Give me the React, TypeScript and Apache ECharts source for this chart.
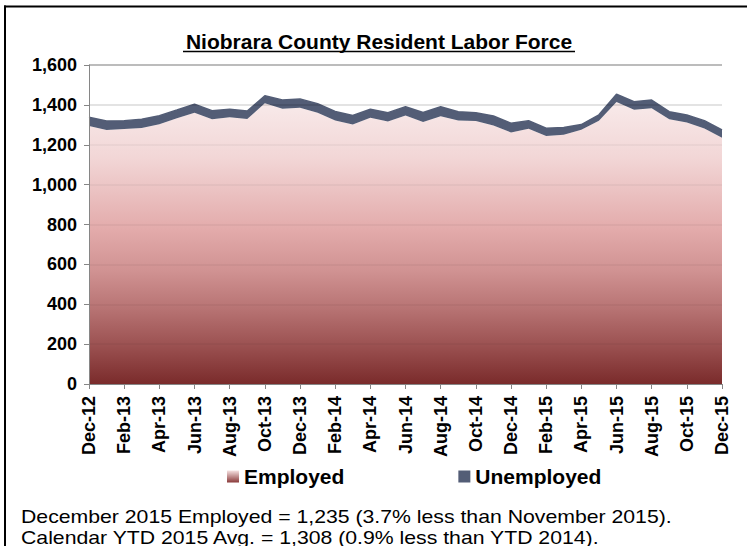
import React, { useEffect, useRef } from "react";
import * as echarts from "echarts";

const months: string[] = [
  "Dec-12", "Jan-13", "Feb-13", "Mar-13", "Apr-13", "May-13", "Jun-13", "Jul-13", "Aug-13", "Sep-13", "Oct-13", "Nov-13", "Dec-13",
  "Jan-14", "Feb-14", "Mar-14", "Apr-14", "May-14", "Jun-14", "Jul-14", "Aug-14", "Sep-14", "Oct-14", "Nov-14", "Dec-14",
  "Jan-15", "Feb-15", "Mar-15", "Apr-15", "May-15", "Jun-15", "Jul-15", "Aug-15", "Sep-15", "Oct-15", "Nov-15", "Dec-15",
];

const employed: number[] = [
  1294, 1274, 1279, 1284, 1303, 1333, 1361, 1328, 1338, 1329, 1408, 1381, 1386,
  1361, 1322, 1302, 1336, 1317, 1347, 1314, 1343, 1322, 1319, 1297, 1262,
  1280, 1244, 1250, 1275, 1320, 1415, 1375, 1383, 1328, 1311, 1282, 1235,
];

const unemployed: number[] = [
  44, 45, 42, 44, 43, 41, 42, 43, 40, 40, 38, 44, 44,
  45, 45, 45, 42, 44, 44, 48, 48, 44, 42, 47, 46,
  41, 39, 36, 26, 30, 38, 41, 41, 38, 38, 39, 39,
];

const yTicks = { min: 0, max: 1600, interval: 200 };

const titleText = "Niobrara County Resident Labor Force";
const footerLines: string[] = [
  "December 2015 Employed = 1,235 (3.7% less than November 2015).",
  "Calendar YTD 2015 Avg. = 1,308 (0.9% less than YTD 2014).",
];

const FONT = "'Liberation Sans', Arial, sans-serif";

export default function App() {
  const ref = useRef<HTMLDivElement>(null);
  useEffect(() => {
    if (!ref.current) return;
    const chart = echarts.init(ref.current, undefined, { renderer: "svg" });
    const empGradient = new echarts.graphic.LinearGradient(0, 0, 0, 1, [
      { offset: 0, color: "#F8EAEA" },
      { offset: 0.2, color: "#F2D6D6" },
      { offset: 0.45, color: "#E3ABAB" },
      { offset: 0.6, color: "#D09292" },
      { offset: 0.73, color: "#B87474" },
      { offset: 0.86, color: "#9C5252" },
      { offset: 1, color: "#7A2B2B" },
    ]);
    const iconGradient = new echarts.graphic.LinearGradient(0, 0, 0, 1, [
      { offset: 0, color: "#F6E2E2" },
      { offset: 1, color: "#8A3A3A" },
    ]);
    const gridColors = [
      "rgba(0,0,0,0)", "rgba(0,0,0,0.05)", "rgba(0,0,0,0.05)", "rgba(0,0,0,0.05)",
      "rgba(0,0,0,0.05)", "rgba(0,0,0,0.05)", "rgba(0,0,0,0.05)", "rgba(0,0,0,0.15)", "#A6A6A6",
    ];
    chart.setOption({
      animation: false,
      backgroundColor: "#ffffff",
      textStyle: { fontFamily: FONT },
      grid: { left: 89, right: 25, top: 65, bottom: 162, containLabel: false },
      legend: {
        left: 222,
        top: 461,
        itemWidth: 12,
        itemHeight: 12,
        itemGap: 114,
        icon: "rect",
        textStyle: { fontFamily: FONT, fontSize: 21, fontWeight: "bold", color: "#000" },
        data: [
          { name: "Employed", itemStyle: { color: iconGradient } },
          { name: "Unemployed", itemStyle: { color: "#535D76" } },
        ],
      },
      xAxis: {
        type: "category",
        data: months,
        boundaryGap: false,
        axisLine: { lineStyle: { color: "#868686", width: 1 } },
        axisTick: { show: true, interval: 1, length: 5, lineStyle: { color: "#868686" } },
        axisLabel: {
          interval: 1,
          rotate: 90,
          margin: 12,
          fontFamily: FONT,
          fontSize: 18,
          fontWeight: "bold",
          color: "#000",
        },
        splitLine: { show: false },
      },
      yAxis: {
        type: "value",
        min: yTicks.min,
        max: yTicks.max,
        interval: yTicks.interval,
        z: 3,
        axisLine: { show: true, lineStyle: { color: "#868686", width: 1 } },
        axisTick: { show: true, length: 5, lineStyle: { color: "#868686" } },
        axisLabel: {
          margin: 12,
          fontFamily: FONT,
          fontSize: 18,
          fontWeight: "bold",
          color: "#000",
          formatter: (v: number) => v.toLocaleString("en-US"),
        },
        splitLine: { show: true, lineStyle: { color: gridColors, width: 1.5 } },
      },
      series: [
        {
          name: "Employed",
          type: "line",
          stack: "total",
          data: employed,
          showSymbol: false,
          symbol: "none",
          lineStyle: { width: 0 },
          itemStyle: { color: "#C07C7C" },
          areaStyle: { color: empGradient, opacity: 1 },
          z: 2,
        },
        {
          name: "Unemployed",
          type: "line",
          stack: "total",
          data: unemployed,
          showSymbol: false,
          symbol: "none",
          lineStyle: { width: 1.5, color: "#535D76" },
          itemStyle: { color: "#535D76" },
          areaStyle: { color: "#535D76", opacity: 1 },
          z: 2,
        },
      ],
      graphic: [
        {
          type: "line",
          shape: { x1: 5, y1: 5.5, x2: 5, y2: 560 },
          style: { stroke: "#000", lineWidth: 2 },
          silent: true,
          z: 10,
        },
        {
          type: "line",
          shape: { x1: 4, y1: 6.5, x2: 760, y2: 6.5 },
          style: { stroke: "#000", lineWidth: 2 },
          silent: true,
          z: 10,
        },
        {
          type: "text",
          x: 379,
          y: 41,
          style: {
            text: titleText,
            font: `bold 21px ${FONT}`,
            fill: "#000",
            align: "center",
            verticalAlign: "middle",
          },
          z: 10,
        },
        {
          type: "line",
          shape: { x1: 183, y1: 51.5, x2: 575, y2: 51.5 },
          style: { stroke: "#000", lineWidth: 1.5 },
          z: 10,
        },
        {
          type: "text",
          x: 21,
          y: 517,
          scaleX: 1.18,
          style: {
            text: footerLines[0],
            font: `18px ${FONT}`,
            fill: "#000",
            align: "left",
            verticalAlign: "middle",
          },
          z: 10,
        },
        {
          type: "text",
          x: 21,
          y: 537.5,
          scaleX: 1.18,
          style: {
            text: footerLines[1],
            font: `18px ${FONT}`,
            fill: "#000",
            align: "left",
            verticalAlign: "middle",
          },
          z: 10,
        },
      ],
    });
    return () => chart.dispose();
  }, []);
  return (
    <div
      ref={ref}
      style={{ position: "fixed", left: 0, top: 0, width: 747, height: 546, background: "#fff" }}
    />
  );
}
